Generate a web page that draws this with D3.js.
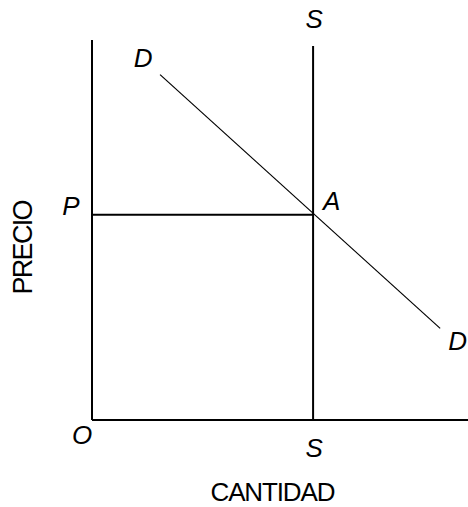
<!DOCTYPE html>
<html>
<head>
<meta charset="utf-8">
<script src="https://cdn.jsdelivr.net/npm/d3@7"></script>
<style>
  body { margin: 0; background: #fff; }
  text { font-family: "Liberation Sans", Arial, sans-serif; fill: #000; }
</style>
</head>
<body>
<div id="chart"></div>
<script>
// Domains of the two axes (abstract units)
const xDomain = [0, 10];
const yDomain = [0, 10];

// Supply (vertical) quantity and equilibrium price
const supplyQ = [5.88];
const supplyTop = [9.84];
const priceP = [5.4];

// Demand line end points
const demand = [
    {q: 1.81, p: 9.09},
    {q: 9.26, p: 2.41}
];

const W = 468, H = 507;
const origin = {x: 92, y: 420};

const svg = d3.select("#chart").append("svg")
    .attr("width", W).attr("height", H);

const x = d3.scaleLinear().domain(xDomain).range([origin.x, 468]);
const y = d3.scaleLinear().domain(yDomain).range([origin.y, 40]);

// Axes (plain lines, no ticks)
svg.append("line")
    .attr("x1", x(0)).attr("y1", y(0))
    .attr("x2", x(0)).attr("y2", y(yDomain[1]))
    .attr("stroke", "#000").attr("stroke-width", 2);
svg.append("line")
    .attr("x1", x(0)).attr("y1", y(0))
    .attr("x2", x(xDomain[1])).attr("y2", y(0))
    .attr("stroke", "#000").attr("stroke-width", 2);

// Supply line S-S
svg.selectAll("line.supply")
    .data(supplyQ)
    .enter().append("line")
    .attr("class", "supply")
    .attr("x1", d => x(d)).attr("y1", y(0))
    .attr("x2", d => x(d)).attr("y2", y(supplyTop[0]))
    .attr("stroke", "#000").attr("stroke-width", 2);

// Price line P-A
svg.selectAll("line.price")
    .data(priceP)
    .enter().append("line")
    .attr("class", "price")
    .attr("x1", x(0)).attr("y1", d => y(d))
    .attr("x2", x(supplyQ[0])).attr("y2", d => y(d))
    .attr("stroke", "#000").attr("stroke-width", 2);

// Demand line D-D
svg.append("path")
    .datum(demand)
    .attr("d", d3.line().x(d => x(d.q)).y(d => y(d.p)))
    .attr("fill", "none")
    .attr("stroke", "#000")
    .attr("stroke-width", 1.2);

// Italic point labels
const lab = (tx, ty, t, anchor) => svg.append("text")
    .attr("x", tx).attr("y", ty)
    .attr("text-anchor", anchor || "middle")
    .style("font-size", "26px")
    .style("font-style", "italic")
    .text(t);

lab(x(supplyQ[0]) + 1, y(supplyTop[0]) - 18, "S");
lab(x(supplyQ[0]) + 1, y(0) + 37, "S");
lab(x(demand[0].q) - 17, y(demand[0].p) - 8, "D");
lab(x(demand[1].q) + 8, y(demand[1].p) + 22, "D", "start");
lab(x(0) - 21, y(priceP[0]), "P");
lab(x(supplyQ[0]) + 10, y(priceP[0]) - 5, "A", "start");
lab(x(0) - 10, y(0) + 24, "O");

// Axis titles
svg.append("text")
    .attr("x", 273).attr("y", 501)
    .attr("text-anchor", "middle")
    .attr("textLength", 125)
    .style("font-size", "26px")
    .text("CANTIDAD");

svg.append("text")
    .attr("transform", "translate(32,247) rotate(-90)")
    .attr("text-anchor", "middle")
    .attr("textLength", 95)
    .style("font-size", "27px")
    .text("PRECIO");
</script>
</body>
</html>
